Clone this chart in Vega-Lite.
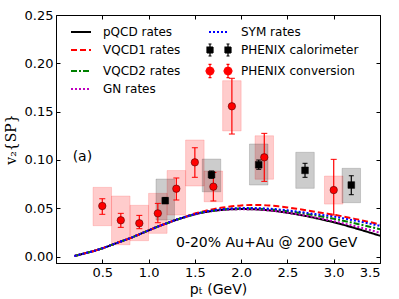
{
  "$schema": "https://vega.github.io/schema/vega-lite/v6.json",
  "width": 324,
  "height": 248,
  "autosize": {"type": "none"},
  "padding": {"left": 56, "top": 15, "right": 19, "bottom": 36},
  "config": {
    "font": "DejaVu Sans",
    "view": {"stroke": "black", "strokeWidth": 1},
    "axis": {"grid": false, "domainColor": "black", "tickColor": "black", "labelColor": "black", "titleColor": "black", "labelFont": "DejaVu Sans", "titleFont": "DejaVu Sans", "labelFontSize": 13, "titleFontSize": 14, "titleFontWeight": "normal", "tickSize": -4, "labelPadding": 7}
  },
  "datasets": {
    "conv": [
      {"x": 0.5, "y": 0.0523, "elo": 0.0437, "ehi": 0.0598, "bx1": 0.4, "bx2": 0.6, "slo": 0.0319, "shi": 0.0716},
      {"x": 0.7, "y": 0.0375, "elo": 0.0302, "ehi": 0.0447, "bx1": 0.6, "bx2": 0.8, "slo": 0.0122, "shi": 0.0626},
      {"x": 0.9, "y": 0.0344, "elo": 0.0288, "ehi": 0.0426, "bx1": 0.8, "bx2": 1.0, "slo": 0.0164, "shi": 0.053},
      {"x": 1.1, "y": 0.0447, "elo": 0.035, "ehi": 0.055, "bx1": 1.0, "bx2": 1.2, "slo": 0.024, "shi": 0.0654},
      {"x": 1.3, "y": 0.0702, "elo": 0.0585, "ehi": 0.0813, "bx1": 1.2, "bx2": 1.4, "slo": 0.043, "shi": 0.089},
      {"x": 1.5, "y": 0.0975, "elo": 0.082, "ehi": 0.1126, "bx1": 1.4, "bx2": 1.6, "slo": 0.073, "shi": 0.1206},
      {"x": 1.7, "y": 0.0723, "elo": 0.0575, "ehi": 0.087, "bx1": 1.6, "bx2": 1.8, "slo": 0.0567, "shi": 0.0885},
      {"x": 1.9, "y": 0.1555, "elo": 0.1268, "ehi": 0.1845, "bx1": 1.8, "bx2": 2.0, "slo": 0.13, "shi": 0.182},
      {"x": 2.25, "y": 0.1027, "elo": 0.0778, "ehi": 0.1275, "bx1": 2.15, "bx2": 2.35, "slo": 0.08, "shi": 0.125},
      {"x": 3.0, "y": 0.0688, "elo": 0.043, "ehi": 0.1006, "bx1": 2.9, "bx2": 3.1, "slo": 0.0543, "shi": 0.0833}
    ],
    "cal": [
      {"x": 1.18, "y": 0.0578, "elo": 0.055, "ehi": 0.061, "bx1": 1.08, "bx2": 1.28, "slo": 0.0378, "shi": 0.0802},
      {"x": 1.68, "y": 0.0847, "elo": 0.081, "ehi": 0.0885, "bx1": 1.58, "bx2": 1.78, "slo": 0.067, "shi": 0.1009},
      {"x": 2.19, "y": 0.095, "elo": 0.0903, "ehi": 0.0999, "bx1": 2.09, "bx2": 2.29, "slo": 0.074, "shi": 0.1165},
      {"x": 2.69, "y": 0.0892, "elo": 0.082, "ehi": 0.0965, "bx1": 2.59, "bx2": 2.79, "slo": 0.0706, "shi": 0.1079},
      {"x": 3.19, "y": 0.074, "elo": 0.064, "ehi": 0.0836, "bx1": 3.09, "bx2": 3.29, "slo": 0.0557, "shi": 0.0913}
    ],
    "curves": [
      {"x": 0.2, "pQCD rates": 0.0005, "VQCD1 rates": 0.0005, "VQCD2 rates": 0.0005, "GN rates": 0.0005, "SYM rates": 0.0005},
      {"x": 0.3, "pQCD rates": 0.003, "VQCD1 rates": 0.003, "VQCD2 rates": 0.003, "GN rates": 0.003, "SYM rates": 0.003},
      {"x": 0.4, "pQCD rates": 0.0055, "VQCD1 rates": 0.0055, "VQCD2 rates": 0.0055, "GN rates": 0.0055, "SYM rates": 0.0055},
      {"x": 0.5, "pQCD rates": 0.0085, "VQCD1 rates": 0.0085, "VQCD2 rates": 0.0085, "GN rates": 0.0085, "SYM rates": 0.0085},
      {"x": 0.6, "pQCD rates": 0.012, "VQCD1 rates": 0.012, "VQCD2 rates": 0.012, "GN rates": 0.012, "SYM rates": 0.012},
      {"x": 0.7, "pQCD rates": 0.0155, "VQCD1 rates": 0.0155, "VQCD2 rates": 0.0155, "GN rates": 0.0155, "SYM rates": 0.0155},
      {"x": 0.8, "pQCD rates": 0.019, "VQCD1 rates": 0.019, "VQCD2 rates": 0.019, "GN rates": 0.019, "SYM rates": 0.019},
      {"x": 0.9, "pQCD rates": 0.023, "VQCD1 rates": 0.023, "VQCD2 rates": 0.023, "GN rates": 0.023, "SYM rates": 0.023},
      {"x": 1.0, "pQCD rates": 0.027, "VQCD1 rates": 0.027, "VQCD2 rates": 0.027, "GN rates": 0.027, "SYM rates": 0.027},
      {"x": 1.1, "pQCD rates": 0.031, "VQCD1 rates": 0.031, "VQCD2 rates": 0.031, "GN rates": 0.031, "SYM rates": 0.031},
      {"x": 1.2, "pQCD rates": 0.0345, "VQCD1 rates": 0.0346, "VQCD2 rates": 0.0345, "GN rates": 0.0345, "SYM rates": 0.0346},
      {"x": 1.3, "pQCD rates": 0.038, "VQCD1 rates": 0.0382, "VQCD2 rates": 0.038, "GN rates": 0.038, "SYM rates": 0.0381},
      {"x": 1.4, "pQCD rates": 0.041, "VQCD1 rates": 0.0413, "VQCD2 rates": 0.0411, "GN rates": 0.041, "SYM rates": 0.0412},
      {"x": 1.5, "pQCD rates": 0.0437, "VQCD1 rates": 0.0445, "VQCD2 rates": 0.0438, "GN rates": 0.0437, "SYM rates": 0.044},
      {"x": 1.6, "pQCD rates": 0.0458, "VQCD1 rates": 0.047, "VQCD2 rates": 0.046, "GN rates": 0.0458, "SYM rates": 0.0462},
      {"x": 1.7, "pQCD rates": 0.0473, "VQCD1 rates": 0.049, "VQCD2 rates": 0.0475, "GN rates": 0.0473, "SYM rates": 0.0478},
      {"x": 1.8, "pQCD rates": 0.0483, "VQCD1 rates": 0.0507, "VQCD2 rates": 0.0487, "GN rates": 0.0483, "SYM rates": 0.049},
      {"x": 1.9, "pQCD rates": 0.0489, "VQCD1 rates": 0.052, "VQCD2 rates": 0.0494, "GN rates": 0.0489, "SYM rates": 0.0497},
      {"x": 2.0, "pQCD rates": 0.0491, "VQCD1 rates": 0.0529, "VQCD2 rates": 0.0497, "GN rates": 0.049, "SYM rates": 0.0501},
      {"x": 2.1, "pQCD rates": 0.049, "VQCD1 rates": 0.0533, "VQCD2 rates": 0.0497, "GN rates": 0.049, "SYM rates": 0.0502},
      {"x": 2.2, "pQCD rates": 0.0486, "VQCD1 rates": 0.0533, "VQCD2 rates": 0.0494, "GN rates": 0.0486, "SYM rates": 0.05},
      {"x": 2.3, "pQCD rates": 0.0478, "VQCD1 rates": 0.0528, "VQCD2 rates": 0.0488, "GN rates": 0.0478, "SYM rates": 0.0495},
      {"x": 2.4, "pQCD rates": 0.0467, "VQCD1 rates": 0.052, "VQCD2 rates": 0.048, "GN rates": 0.0467, "SYM rates": 0.0488},
      {"x": 2.5, "pQCD rates": 0.0453, "VQCD1 rates": 0.0508, "VQCD2 rates": 0.0469, "GN rates": 0.0454, "SYM rates": 0.0478},
      {"x": 2.6, "pQCD rates": 0.0437, "VQCD1 rates": 0.0494, "VQCD2 rates": 0.0456, "GN rates": 0.0439, "SYM rates": 0.0466},
      {"x": 2.7, "pQCD rates": 0.0419, "VQCD1 rates": 0.0479, "VQCD2 rates": 0.0442, "GN rates": 0.0423, "SYM rates": 0.0453},
      {"x": 2.8, "pQCD rates": 0.0399, "VQCD1 rates": 0.0463, "VQCD2 rates": 0.0426, "GN rates": 0.0405, "SYM rates": 0.0439},
      {"x": 2.9, "pQCD rates": 0.0377, "VQCD1 rates": 0.0448, "VQCD2 rates": 0.0409, "GN rates": 0.0386, "SYM rates": 0.0427},
      {"x": 3.0, "pQCD rates": 0.0354, "VQCD1 rates": 0.0433, "VQCD2 rates": 0.0391, "GN rates": 0.0366, "SYM rates": 0.0414},
      {"x": 3.1, "pQCD rates": 0.0329, "VQCD1 rates": 0.0415, "VQCD2 rates": 0.0371, "GN rates": 0.0344, "SYM rates": 0.0396},
      {"x": 3.2, "pQCD rates": 0.0302, "VQCD1 rates": 0.0395, "VQCD2 rates": 0.035, "GN rates": 0.0321, "SYM rates": 0.0377},
      {"x": 3.3, "pQCD rates": 0.0274, "VQCD1 rates": 0.0375, "VQCD2 rates": 0.0328, "GN rates": 0.0297, "SYM rates": 0.0358},
      {"x": 3.4, "pQCD rates": 0.0245, "VQCD1 rates": 0.0354, "VQCD2 rates": 0.0306, "GN rates": 0.0272, "SYM rates": 0.0338},
      {"x": 3.5, "pQCD rates": 0.0215, "VQCD1 rates": 0.0332, "VQCD2 rates": 0.0283, "GN rates": 0.0246, "SYM rates": 0.0318}
    ],
    "notes": [
      {"x": 0.18, "y": 0.1033, "t": "(a)"},
      {"x": 1.296, "y": 0.014, "t": "0-20% Au+Au @ 200 GeV"}
    ]
  },
  "layer": [
    {
      "layer": [
        {
          "data": {"name": "conv"},
          "mark": {"type": "rect", "fill": "#ff0000", "fillOpacity": 0.2, "stroke": "#ff0000", "strokeOpacity": 0.15, "strokeWidth": 1},
          "encoding": {
            "x": {"field": "bx1", "type": "quantitative", "scale": {"domain": [0, 3.5], "nice": false, "zero": false}, "axis": {"orient": "bottom", "values": [0.5, 1, 1.5, 2, 2.5, 3, 3.5], "format": ".1f", "title": "p\u209c (GeV)", "titlePadding": 3}},
            "x2": {"field": "bx2"},
            "y": {"field": "slo", "type": "quantitative", "scale": {"domain": [-0.0067, 0.25], "nice": false, "zero": false}, "axis": {"orient": "left", "values": [0, 0.05, 0.1, 0.15, 0.2, 0.25], "format": ".2f", "title": "v\u2082{SP}", "titleFont": "DejaVu Serif", "titlePadding": 6}},
            "y2": {"field": "shi"}
          }
        },
        {
          "data": {"name": "cal"},
          "mark": {"type": "rect", "fill": "#000000", "fillOpacity": 0.2, "stroke": "#000000", "strokeOpacity": 0.15, "strokeWidth": 1},
          "encoding": {
            "x": {"field": "bx1", "type": "quantitative"},
            "x2": {"field": "bx2"},
            "y": {"field": "slo", "type": "quantitative"},
            "y2": {"field": "shi"}
          }
        },
        {
          "data": {"name": "curves"},
          "transform": [{"fold": ["pQCD rates", "VQCD1 rates", "VQCD2 rates", "GN rates", "SYM rates"], "as": ["series", "v"]}],
          "mark": {"type": "line", "strokeWidth": 2, "interpolate": "monotone"},
          "encoding": {
            "x": {"field": "x", "type": "quantitative"},
            "y": {"field": "v", "type": "quantitative"},
            "detail": {"field": "series"},
            "strokeDash": {"field": "series", "type": "nominal", "scale": {"domain": ["pQCD rates", "VQCD1 rates", "VQCD2 rates", "GN rates", "SYM rates"], "range": [[1, 0], [6, 3], [6, 2, 2, 2], [2, 2], [2, 2]]}, "legend": null},
            "color": {
              "field": "series", "type": "nominal",
              "scale": {"domain": ["pQCD rates", "VQCD1 rates", "VQCD2 rates", "GN rates", "SYM rates", "PHENIX calorimeter", "PHENIX conversion"], "range": ["#000000", "#ff0000", "#008000", "#bf00bf", "#0000ff", "#000000", "#ff0000"]},
              "legend": {
                "orient": "none", "legendX": 19, "legendY": 11, "columns": 2, "columnPadding": 22, "rowPadding": 3,
                "symbolSize": 400, "symbolType": "stroke", "symbolStrokeWidth": 2, "labelOffset": 16,
                "labelFont": "DejaVu Sans", "labelFontSize": 12, "labelColor": "black", "padding": 0, "title": null,
                "encode": {
                  "symbols": {
                    "update": {
                      "shape": {"signal": "datum.value === 'PHENIX calorimeter' ? 'M-2,-0.5H-1V0.5H-2Z M1,-0.5H2V0.5H1Z M-1.5,-1V1 M-1.75,-1H-1.25 M-1.75,1H-1.25 M1.5,-1V1 M1.25,-1H1.75 M1.25,1H1.75' : datum.value === 'PHENIX conversion' ? 'M-0.83,0L-1.03,0.47L-1.5,0.67L-1.97,0.47L-2.17,0L-1.97,-0.47L-1.5,-0.67L-1.03,-0.47Z M2.17,0L1.97,0.47L1.5,0.67L1.03,0.47L0.83,0L1.03,-0.47L1.5,-0.67L1.97,-0.47Z M-1.5,-1.1V1.1 M-1.75,-1.1H-1.25 M-1.75,1.1H-1.25 M1.5,-1.1V1.1 M1.25,-1.1H1.75 M1.25,1.1H1.75' : 'stroke'"},
                      "fill": {"signal": "datum.value === 'PHENIX calorimeter' ? '#000000' : datum.value === 'PHENIX conversion' ? '#ff0000' : 'transparent'"},
                      "stroke": {"signal": "datum.value === 'PHENIX calorimeter' || datum.value === 'pQCD rates' ? '#000000' : datum.value === 'PHENIX conversion' || datum.value === 'VQCD1 rates' ? '#ff0000' : datum.value === 'VQCD2 rates' ? '#008000' : datum.value === 'GN rates' ? '#bf00bf' : '#0000ff'"},
                      "strokeDash": {"signal": "datum.value === 'VQCD1 rates' ? [6,3] : datum.value === 'VQCD2 rates' ? [6,2,2,2] : datum.value === 'GN rates' ? [2,2] : datum.value === 'SYM rates' ? [2,2] : [1,0]"},
                      "strokeWidth": {"signal": "datum.value === 'PHENIX calorimeter' || datum.value === 'PHENIX conversion' ? 1.2 : 2"},
                      "size": {"signal": "datum.value === 'PHENIX calorimeter' || datum.value === 'PHENIX conversion' ? 144 : 400"},
                      "opacity": {"value": 1}
                    }
                  }
                }
              }
            }
          }
        },
        {
          "data": {"name": "conv"},
          "mark": {"type": "rule", "color": "#ff0000", "strokeWidth": 1.2},
          "encoding": {"x": {"field": "x", "type": "quantitative"}, "y": {"field": "elo", "type": "quantitative"}, "y2": {"field": "ehi"}}
        },
        {
          "data": {"name": "conv"},
          "mark": {"type": "tick", "orient": "horizontal", "color": "#ff0000", "size": 6, "thickness": 1, "opacity": 1},
          "encoding": {"x": {"field": "x", "type": "quantitative"}, "y": {"field": "elo", "type": "quantitative"}}
        },
        {
          "data": {"name": "conv"},
          "mark": {"type": "tick", "orient": "horizontal", "color": "#ff0000", "size": 6, "thickness": 1, "opacity": 1},
          "encoding": {"x": {"field": "x", "type": "quantitative"}, "y": {"field": "ehi", "type": "quantitative"}}
        },
        {
          "data": {"name": "cal"},
          "mark": {"type": "rule", "color": "#000000", "strokeWidth": 1.2},
          "encoding": {"x": {"field": "x", "type": "quantitative"}, "y": {"field": "elo", "type": "quantitative"}, "y2": {"field": "ehi"}}
        },
        {
          "data": {"name": "cal"},
          "mark": {"type": "tick", "orient": "horizontal", "color": "#000000", "size": 5, "thickness": 1, "opacity": 1},
          "encoding": {"x": {"field": "x", "type": "quantitative"}, "y": {"field": "elo", "type": "quantitative"}}
        },
        {
          "data": {"name": "cal"},
          "mark": {"type": "tick", "orient": "horizontal", "color": "#000000", "size": 5, "thickness": 1, "opacity": 1},
          "encoding": {"x": {"field": "x", "type": "quantitative"}, "y": {"field": "ehi", "type": "quantitative"}}
        },
        {
          "data": {"name": "cal"},
          "mark": {"type": "point", "shape": "square", "filled": true, "size": 45, "opacity": 1, "stroke": "#000000", "strokeWidth": 0.5},
          "encoding": {"x": {"field": "x", "type": "quantitative"}, "y": {"field": "y", "type": "quantitative"}, "color": {"datum": "PHENIX calorimeter", "type": "nominal"}}
        },
        {
          "data": {"name": "conv"},
          "mark": {"type": "point", "shape": "circle", "filled": true, "size": 55, "opacity": 1, "stroke": "#550000", "strokeWidth": 0.6},
          "encoding": {"x": {"field": "x", "type": "quantitative"}, "y": {"field": "y", "type": "quantitative"}, "color": {"datum": "PHENIX conversion", "type": "nominal"}}
        }
      ]
    },
    {
      "data": {"name": "notes"},
      "mark": {"type": "text", "align": "left", "baseline": "middle", "fontSize": 14, "font": "DejaVu Sans", "color": "black"},
      "encoding": {
        "x": {"field": "x", "type": "quantitative", "scale": {"domain": [0, 3.5], "nice": false, "zero": false}, "axis": {"orient": "top", "labels": false, "title": null, "domain": false, "values": [0.5, 1, 1.5, 2, 2.5, 3, 3.5]}},
        "y": {"field": "y", "type": "quantitative", "scale": {"domain": [-0.0067, 0.25], "nice": false, "zero": false}, "axis": {"orient": "right", "labels": false, "title": null, "domain": false, "values": [0, 0.05, 0.1, 0.15, 0.2, 0.25]}},
        "text": {"field": "t"}
      }
    }
  ],
  "resolve": {"axis": {"x": "independent", "y": "independent"}}
}
